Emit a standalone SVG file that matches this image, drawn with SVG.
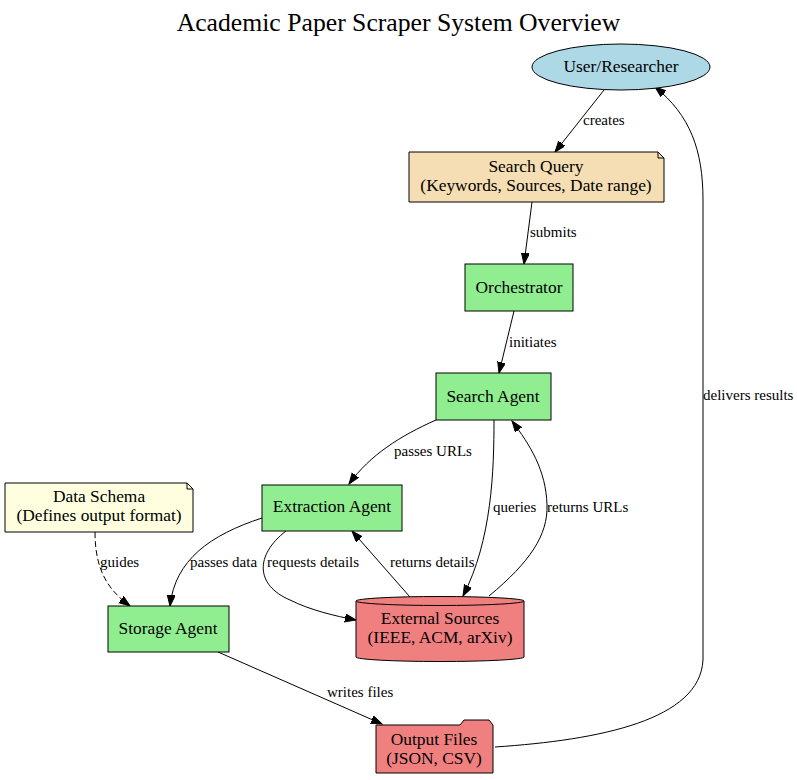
<svg xmlns="http://www.w3.org/2000/svg" width="797" height="780" viewBox="0 0 797 780">
<style>
.bg{fill:#ffffff}
.node{stroke:#000000;stroke-width:1}
.box{fill:#90EE90}
.coral{fill:#F08080}
.nt{font-family:"Liberation Serif","Times New Roman",serif;font-size:17.4px;fill:#000000;text-anchor:middle}
.el{font-family:"Liberation Serif","Times New Roman",serif;font-size:15px;fill:#000000}
.edge{fill:none;stroke:#000000;stroke-width:1;marker-end:url(#ah)}
.dash{stroke-dasharray:6,3}
.title{font-family:"Liberation Serif","Times New Roman",serif;font-size:25.7px;fill:#000000;text-anchor:middle}
</style>
<defs>
<marker id="ah" markerUnits="userSpaceOnUse" markerWidth="12" markerHeight="9" refX="11" refY="4" orient="auto">
<path d="M0,0 L11,4 L0,8 Z" fill="#000000" stroke="#000000" stroke-width="1"/>
</marker>
</defs>
<rect class="bg" x="0" y="0" width="797" height="780"/>
<text class="title" x="398.5" y="31">Academic Paper Scraper System Overview</text>

<g id="connectors">
<path class="edge" d="M604,90 L555,152"/>
<text class="el" x="583" y="125">creates</text>
<path class="edge" d="M532,202 L524,264"/>
<text class="el" x="530" y="237">submits</text>
<path class="edge" d="M514,311 L499,373"/>
<text class="el" x="509" y="347">initiates</text>
<path class="edge" d="M436,420 C400,436 370,455 349,484"/>
<text class="el" x="394" y="456">passes URLs</text>
<path class="edge" d="M494,420 C494,470 492,540 463,596"/>
<text class="el" x="493" y="512">queries</text>
<path class="edge" d="M489,596 C530,562 548,535 547,505 C546,470 530,445 512,421"/>
<text class="el" x="547" y="512">returns URLs</text>
<path class="edge" d="M286,531 C255,555 255,585 290,600 C310,610 335,616 356,620"/>
<text class="el" x="267" y="567">requests details</text>
<path class="edge" d="M410,597 L352,531"/>
<text class="el" x="390" y="567">returns details</text>
<path class="edge" d="M262,518 C210,535 175,560 170,606"/>
<text class="el" x="190" y="567">passes data</text>
<path class="edge dash" d="M95,532 C95,570 108,590 130,606"/>
<text class="el" x="100" y="567">guides</text>
<path class="edge" d="M218,652 L382,724"/>
<text class="el" x="327" y="697">writes files</text>
<path class="edge" d="M495,747 C600,740 700,720 703,660 L703,200 C703,150 690,115 655,87"/>
<text class="el" x="703" y="400">delivers results</text>
</g>

<g id="user">
<ellipse class="node" cx="621" cy="67" rx="89" ry="23" fill="#ADD8E6"/>
<text class="nt" x="621" y="72">User/Researcher</text>
</g>
<g id="search_query">
<path class="node" d="M409,152 L658,152 L664,158 L664,202 L409,202 Z" fill="#F5DEB3"/>
<path class="node" d="M658,152 L658,158 L664,158" fill="none"/>
<text class="nt" x="536" y="172">Search Query</text>
<text class="nt" x="536" y="191">(Keywords, Sources, Date range)</text>
</g>
<g id="orchestrator">
<rect class="node box" x="465" y="264" width="108" height="47"/>
<text class="nt" x="519" y="293">Orchestrator</text>
</g>
<g id="search_agent">
<rect class="node box" x="436" y="373" width="115" height="47"/>
<text class="nt" x="493" y="402">Search Agent</text>
</g>
<g id="extraction_agent">
<rect class="node box" x="262" y="485" width="140" height="46"/>
<text class="nt" x="332" y="512">Extraction Agent</text>
</g>
<g id="data_schema">
<path class="node" d="M5,483 L187,483 L193,489 L193,532 L5,532 Z" fill="#FFFFE0"/>
<path class="node" d="M187,483 L187,489 L193,489" fill="none"/>
<text class="nt" x="99" y="502">Data Schema</text>
<text class="nt" x="99" y="521">(Defines output format)</text>
</g>
<g id="storage_agent">
<rect class="node box" x="108" y="606" width="121" height="46"/>
<text class="nt" x="168" y="634">Storage Agent</text>
</g>
<g id="external_sources">
<path class="node coral" d="M356,601 A84,4.5 0 0 1 524,601 L524,657 A84,4.5 0 0 1 356,657 Z"/>
<path class="node" d="M356,601 A84,4.5 0 0 0 524,601" fill="none"/>
<text class="nt" x="440" y="624">External Sources</text>
<text class="nt" x="440" y="643">(IEEE, ACM, arXiv)</text>
</g>
<g id="output_files">
<path class="node coral" d="M376,725 L460,725 L464,720 L489,720 L493,725 L493,773 L376,773 Z"/>
<text class="nt" x="434" y="745">Output Files</text>
<text class="nt" x="434" y="764">(JSON, CSV)</text>
</g>
</svg>
